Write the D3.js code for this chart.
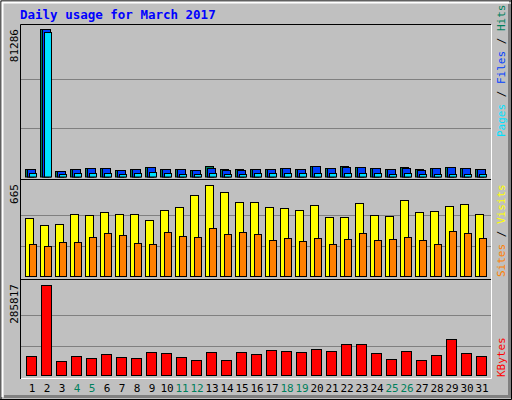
<!DOCTYPE html>
<html><head><meta charset="utf-8">
<script src="https://cdn.jsdelivr.net/npm/d3@7"></script>
<style>body{margin:0;background:#fff}svg{display:block}</style></head>
<body><svg id="c" width="512" height="400"></svg>
<script>
const days = d3.range(1, 32);
const weekend = [4,5,11,12,18,19,25,26];
const hits  = [4560,81286,3460,4560,5110,5110,4010,4560,5650,4560,4560,4010,6200,4560,4560,4560,4560,5110,4560,6420,5110,6420,5870,5110,4560,5870,4560,5110,5870,5110,4560];
const files = [4560,81286,3460,4560,5110,5110,4010,4560,5650,4560,4560,4010,5110,4010,4010,4560,4560,5110,4560,6420,5110,6000,5870,5110,4560,5300,4300,5110,5870,5110,4560];
const pages = [2580,79600,1810,2580,2580,2580,2030,2580,2750,2580,2030,2030,2580,2030,2030,2200,2200,2200,2200,2200,2200,2500,2500,2200,2030,2200,2030,2030,2030,2030,2030];
const visits = [424,374,381,453,446,467,453,453,410,481,503,589,660,610,539,539,503,496,481,517,431,431,531,446,438,553,467,474,510,524,453];
const sites  = [238,224,253,253,288,317,303,245,238,324,296,288,353,310,324,310,267,281,260,281,238,274,317,267,274,288,267,238,331,317,281];
const kbytes = [63600,285817,48000,63600,57400,69900,60500,57400,76000,73000,60500,51100,76000,51000,76000,69900,82400,79300,76100,85500,79300,101000,101000,73000,54200,79300,51100,66800,116800,73000,63600];
const maxHits = 81286, maxVisits = 665, maxKB = 285817;

const svg = d3.select('#c');
const FONT = '"DejaVu Sans Mono", monospace';
svg.append('rect').attr('width',512).attr('height',400).attr('fill','#c0c0c0');
// 3D frame
svg.append('path').attr('d','M1,399 L1,1 L511,1').attr('stroke','#000').attr('fill','none');
svg.append('path').attr('d','M2.5,397 L2.5,2.5 L509,2.5').attr('stroke','#fff').attr('stroke-width',2).attr('fill','none');
svg.append('path').attr('d','M4,396.5 L509.5,396.5 L509.5,4').attr('stroke','#808080').attr('stroke-width',3).attr('fill','none');
svg.append('path').attr('d','M0,399.5 L511.5,399.5 L511.5,0').attr('stroke','#000').attr('fill','none');

svg.append('text').attr('x',20).attr('y',19).text('Daily usage for March 2017')
  .attr('font-family',FONT).attr('font-weight','bold').attr('font-size',12.5).attr('fill','#0000ff');

const x = d3.scaleBand().domain(days).range([21, 486]).paddingInner(0).paddingOuter(0);
const left = 21, right = 491;
const panels = [
  {top:25, bottom:177.5, max:maxHits},
  {top:180, bottom:277, max:maxVisits},
  {top:280, bottom:376, max:maxKB}
];
const yTop = d3.scaleLinear().domain([0,maxHits]).range([177.5, 29]);
const yMid = d3.scaleLinear().domain([0,maxVisits]).range([277, 184]);
const yBot = d3.scaleLinear().domain([0,maxKB]).range([376, 284.5]);

// panel frames and grid
[[25,180,yTop],[180,280,yMid],[280,379,yBot]].forEach(([t,b,y])=>{
  svg.append('rect').attr('x',left).attr('y',t).attr('width',right-left).attr('height',b-t).attr('fill','#c0c0c0');
  [1/3,2/3].forEach(f=>{
    const yy = Math.round(y(y.domain()[1]*f))+0.5;
    svg.append('line').attr('x1',left).attr('x2',right).attr('y1',yy).attr('y2',yy).attr('stroke','#808080').attr('stroke-width',1);
  });
});
[[25,180],[180,280],[280,379]].forEach(([t,b])=>{
  svg.append('path').attr('d',`M${left-0.5},${b} L${left-0.5},${t-0.5} L${right},${t-0.5}`).attr('stroke','#000').attr('fill','none');
  svg.append('path').attr('d',`M${left},${b-0.5} L${right+0.5},${b-0.5} L${right+0.5},${t}`).attr('stroke','#fff').attr('fill','none');
});

function bars(data, y, off, w, color){
  svg.append('g').selectAll('rect').data(data).join('rect')
    .attr('x',(d,i)=>x(days[i])+off+0.5).attr('width',w)
    .attr('y',d=>Math.round(y(d))+0.5).attr('height',d=>Math.max(0,y(0)-Math.round(y(d))-1))
    .attr('fill',color).attr('stroke','#000').attr('stroke-width',1);
}
bars(hits, yTop, 4, 8, '#00805c');
bars(files, yTop, 6, 8, '#0040ff');
bars(pages, yTop, 8, 7, '#00e0ff');
bars(visits, yMid, 4, 8, '#ffff00');
bars(sites, yMid, 8, 7, '#ff8000');
bars(kbytes, yBot, 5, 10, '#ff0000');

// day labels
svg.append('g').selectAll('text').data(days).join('text')
  .attr('x',d=>x(d)+11).attr('y',392).attr('text-anchor','middle')
  .attr('font-family',FONT).attr('font-size',11)
  .attr('fill',d=>weekend.includes(d)?'#00805c':'#000').text(d=>d);

// left max labels
[[maxHits,29],[maxVisits,184],[maxKB,284]].forEach(([v,yy])=>{
  svg.append('text').attr('transform',`translate(18,${yy}) rotate(-90)`).attr('text-anchor','end')
    .attr('font-family',FONT).attr('font-size',11).attr('fill','#000').text(v);
});

// right legends
function legend(parts, yb){
  const t = svg.append('text').attr('transform',`translate(505,${yb}) rotate(-90)`)
    .attr('font-family',FONT).attr('font-size',11);
  parts.forEach(([s,c])=>t.append('tspan').attr('fill',c).text(s));
}
legend([['Pages','#00e0ff'],[' / ','#000'],['Files','#0040ff'],[' / ','#000'],['Hits','#00805c']], 137);
legend([['Sites','#ff8000'],[' / ','#000'],['Visits','#ffff00']], 277);
legend([['KBytes','#ff0000']], 377);
</script></body></html>
